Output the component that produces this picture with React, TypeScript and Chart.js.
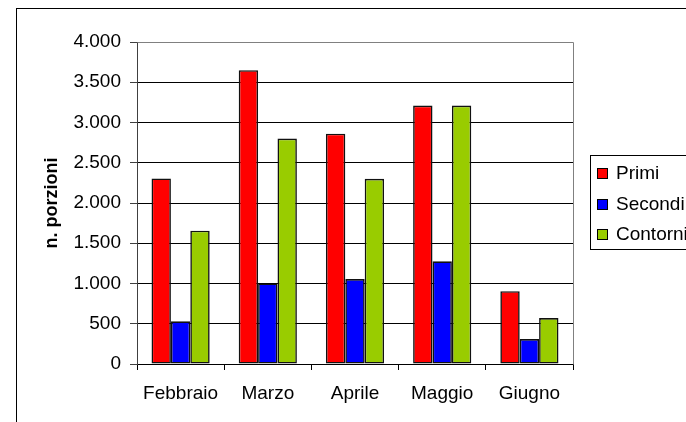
import React, { useEffect, useRef } from "react";
import { Chart, registerables } from "chart.js";

Chart.register(...registerables);

const months = ["Febbraio", "Marzo", "Aprile", "Maggio", "Giugno"];
const primi = [2305, 3650, 2860, 3210, 905];
const secondi = [530, 1000, 1055, 1275, 310];
const contorni = [1655, 2800, 2300, 3210, 570];
const seriesNames = ["Primi", "Secondi", "Contorni"];
const seriesColors = ["#FF0000", "#0000FF", "#99CC00"];
const yTitle = "n. porzioni";

const FONT = "'Liberation Sans', Arial, sans-serif";

function fmt(v: number): string {
  return String(v).replace(/\B(?=(\d{3})+(?!\d))/g, ".");
}

const plotBorder = {
  id: "plotBorder",
  afterDraw(chart: any) {
    const { ctx, chartArea } = chart;
    ctx.save();
    ctx.strokeStyle = "#808080";
    ctx.lineWidth = 1;
    const r = Math.round(chart.scales.x.right) + 0.5;
    const t = Math.round(chartArea.top) + 0.5;
    ctx.beginPath();
    ctx.moveTo(Math.round(chartArea.left) + 0.5, t);
    ctx.lineTo(r, t);
    ctx.lineTo(r, Math.round(chartArea.bottom) + 0.5);
    ctx.stroke();
    ctx.restore();
  },
};

const boxLegend = {
  id: "boxLegend",
  afterDraw(chart: any) {
    const { ctx } = chart;
    const x0 = 573;
    const y0 = 146;
    const y1 = 240;
    ctx.save();
    ctx.fillStyle = "#FFFFFF";
    ctx.fillRect(x0, y0, 200, y1 - y0);
    ctx.strokeStyle = "#000";
    ctx.lineWidth = 1;
    ctx.strokeRect(x0 + 0.5, y0 + 0.5, 200, y1 - y0);
    ctx.font = `19px ${FONT}`;
    ctx.textBaseline = "middle";
    ctx.textAlign = "left";
    chart.data.datasets.forEach((ds: any, i: number) => {
      const cy = 164 + i * 30.5;
      ctx.fillStyle = ds.backgroundColor;
      ctx.fillRect(580, Math.round(cy - 5), 10, 10);
      ctx.strokeStyle = "#000";
      ctx.strokeRect(580.5, Math.round(cy - 5) + 0.5, 10, 10);
      ctx.fillStyle = "#000";
      ctx.fillText(ds.label, 599, cy + 1);
    });
    ctx.restore();
  },
};

export default function App() {
  const ref = useRef<HTMLCanvasElement>(null);
  useEffect(() => {
    if (!ref.current) return;
    Chart.defaults.font.family = FONT;
    const series = [primi, secondi, contorni];
    const chart = new Chart(ref.current, {
      type: "bar",
      data: {
        labels: months,
        datasets: series.map((d, i) => ({
          label: seriesNames[i],
          data: d,
          backgroundColor: seriesColors[i],
          borderColor: "#111",
          borderWidth: 1.6,
          borderSkipped: false,
          categoryPercentage: 0.667,
          barPercentage: 1,
        })),
      },
      options: {
        responsive: false,
        animation: false,
        devicePixelRatio: 1,
        layout: { padding: { left: 0, top: 33, right: 113, bottom: 0 } },
        plugins: {
          legend: { display: false },
          tooltip: { enabled: false },
        },
        scales: {
          x: {
            grid: {
              display: true,
              drawOnChartArea: false,
              drawTicks: true,
              tickLength: 6,
              offset: true,
              color: "#000",
            },
            border: { display: true, color: "#000" },
            ticks: { color: "#000", font: { size: 19 }, padding: 12 },
            afterFit: (s: any) => {
              s.height = 58;
            },
          },
          y: {
            min: 0,
            max: 4000,
            ticks: {
              stepSize: 500,
              color: "#000",
              font: { size: 19 },
              padding: 9,
              callback: (v: any) => fmt(Number(v)),
            },
            grid: {
              color: (c: any) => (c.tick && c.tick.value === 4000 ? "#808080" : "#000"),
              tickColor: "#404040",
              tickLength: 7,
              drawTicks: true,
            },
            border: { display: true, color: "#404040" },
            title: {
              display: true,
              text: yTitle,
              color: "#000",
              font: { size: 18, weight: "bold" },
              padding: { top: 24, bottom: 0 },
            },
            afterFit: (s: any) => {
              s.width = 120;
            },
          },
        },
      },
      plugins: [plotBorder, boxLegend],
    });
    return () => chart.destroy();
  }, []);

  return (
    <div
      style={{
        position: "absolute",
        left: 16,
        top: 8,
        width: 669,
        height: 413,
        borderLeft: "1px solid #000",
        borderTop: "1px solid #000",
        overflow: "hidden",
        background: "#fff",
      }}
    >
      <canvas ref={ref} width={669} height={413} style={{ width: 669, height: 413, display: "block" }} />
    </div>
  );
}
